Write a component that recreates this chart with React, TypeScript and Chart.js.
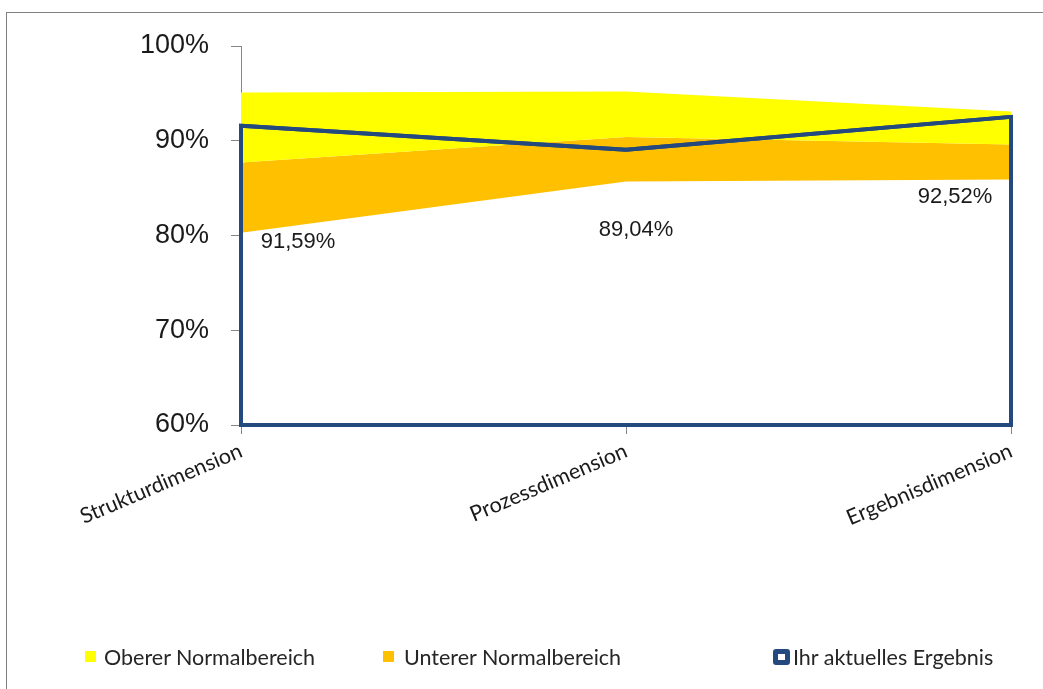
import React, { useEffect, useRef } from 'react';
import { Chart, registerables } from 'chart.js';

Chart.register(...registerables);

// ---- data ----
const categories = ['Strukturdimension', 'Prozessdimension', 'Ergebnisdimension'];
const currentResult = [91.59, 89.04, 92.52];
const lowerRangeBottom = [80.3, 85.7, 85.9];
const lowerRangeTop = [87.7, 90.4, 89.6];
const upperRangeTop = [95.1, 95.2, 93.1];
const yTickValues = [60, 70, 80, 90, 100];
const legendLabels = ['Oberer Normalbereich', 'Unterer Normalbereich', 'Ihr aktuelles Ergebnis'];

// ---- styles ----
const YELLOW = '#FFFF00';
const ORANGE = '#FFC000';
const BLUE = '#24497E';
const AXIS_GRAY = '#868686';
const labelOffsets: [number, number][] = [[57, 116], [10, 80], [-56, 80]];

const fmtPct = (v: number) => v.toFixed(2).replace('.', ',') + '%';

const outlinePlugin = {
  id: 'areaOutline',
  afterDatasetsDraw(chart: any) {
    const meta = chart.getDatasetMeta(0);
    const pts = meta.data;
    if (!pts || !pts.length) return;
    const yScale = chart.scales.y;
    const yBase = yScale.getPixelForValue(yScale.min);
    const ctx = chart.ctx;
    ctx.save();
    ctx.strokeStyle = BLUE;
    ctx.lineWidth = 4;
    ctx.lineJoin = 'miter';
    ctx.beginPath();
    ctx.moveTo(pts[0].x, pts[0].y);
    for (let i = 1; i < pts.length; i++) ctx.lineTo(pts[i].x, pts[i].y);
    ctx.lineTo(pts[pts.length - 1].x, yBase);
    ctx.lineTo(pts[0].x, yBase);
    ctx.closePath();
    ctx.stroke();
    ctx.restore();
  },
};

const dataLabelPlugin = {
  id: 'valueLabels',
  afterDraw(chart: any) {
    const meta = chart.getDatasetMeta(0);
    const ctx = chart.ctx;
    ctx.save();
    ctx.font = '22px "Liberation Sans", Arial, sans-serif';
    ctx.fillStyle = '#1a1a1a';
    ctx.textAlign = 'center';
    ctx.textBaseline = 'middle';
    meta.data.forEach((p: any, i: number) => {
      const [dx, dy] = labelOffsets[i];
      ctx.fillText(fmtPct(currentResult[i]), p.x + dx, p.y + dy);
    });
    ctx.restore();
  },
};

export default function App() {
  const ref = useRef<HTMLCanvasElement>(null);

  useEffect(() => {
    if (!ref.current) return;
    const chart = new Chart(ref.current, {
      type: 'line',
      data: {
        labels: categories,
        datasets: [
          {
            label: legendLabels[2],
            data: currentResult,
            borderColor: BLUE,
            borderWidth: 4,
            pointRadius: 0,
            fill: false,
            tension: 0,
            order: 0,
          },
          {
            label: 'base',
            data: lowerRangeBottom,
            borderWidth: 0,
            borderColor: 'rgba(0,0,0,0)',
            pointRadius: 0,
            fill: false,
            order: 3,
          },
          {
            label: legendLabels[1],
            data: lowerRangeTop,
            borderWidth: 0,
            borderColor: 'rgba(0,0,0,0)',
            backgroundColor: ORANGE,
            pointRadius: 0,
            fill: '-1',
            order: 2,
          },
          {
            label: legendLabels[0],
            data: upperRangeTop,
            borderWidth: 0,
            borderColor: 'rgba(0,0,0,0)',
            backgroundColor: YELLOW,
            pointRadius: 0,
            fill: '-1',
            order: 1,
          },
        ],
      },
      options: {
        responsive: false,
        animation: false,
        layout: { padding: { left: 0, top: 46, right: 32, bottom: 0 } },
        plugins: {
          legend: { display: false },
          tooltip: { enabled: false },
        },
        scales: {
          x: {
            offset: false,
            border: { display: true, color: AXIS_GRAY, width: 1 },
            grid: {
              display: true,
              drawOnChartArea: false,
              drawTicks: true,
              tickLength: 9,
              color: AXIS_GRAY,
            },
            ticks: {
              autoSkip: false,
              minRotation: 23,
              maxRotation: 23,
              padding: 4,
              color: '#1a1a1a',
              font: { family: 'Lato, "Open Sans", sans-serif', size: 21.5 },
            },
            afterFit(scale: any) {
              scale.height = 689 - 425;
            },
          },
          y: {
            min: 60,
            max: 100,
            border: { display: true, color: AXIS_GRAY, width: 1 },
            grid: {
              display: true,
              drawOnChartArea: false,
              drawTicks: true,
              tickLength: 10,
              color: AXIS_GRAY,
            },
            afterBuildTicks(scale: any) {
              scale.ticks = yTickValues.map((v) => ({ value: v }));
            },
            ticks: {
              padding: 22,
              color: '#1a1a1a',
              font: { family: '"Liberation Sans", Arial, sans-serif', size: 27 },
              callback: (v: any) => v + '%',
            },
            afterFit(scale: any) {
              scale.width = 241;
            },
          },
        },
      },
      plugins: [outlinePlugin, dataLabelPlugin],
    });
    return () => chart.destroy();
  }, []);

  const legendText: React.CSSProperties = {
    position: 'absolute',
    top: 644,
    fontFamily: 'Lato, "Open Sans", sans-serif',
    fontSize: 21.5,
    lineHeight: '26px',
    color: '#262626',
    whiteSpace: 'nowrap',
  };

  return (
    <div
      style={{
        position: 'fixed',
        left: 0,
        top: 0,
        width: 1043,
        height: 689,
        background: '#fff',
        overflow: 'hidden',
      }}
    >
      <div
        style={{
          position: 'absolute',
          left: 6,
          top: 12,
          width: 1100,
          height: 700,
          borderLeft: '1px solid #808080',
          borderTop: '1px solid #808080',
        }}
      />
      <canvas
        ref={ref}
        width={1043}
        height={689}
        style={{ position: 'absolute', left: 0, top: 0, width: 1043, height: 689 }}
      />
      <div style={{ position: 'absolute', left: 85, top: 651, width: 11, height: 11, background: YELLOW }} />
      <div style={{ ...legendText, left: 104 }}>{legendLabels[0]}</div>
      <div style={{ position: 'absolute', left: 383, top: 651, width: 11, height: 11, background: ORANGE }} />
      <div style={{ ...legendText, left: 404 }}>{legendLabels[1]}</div>
      <div
        style={{
          position: 'absolute',
          left: 773,
          top: 649,
          width: 7,
          height: 6,
          border: '5px solid ' + BLUE,
          borderRadius: 3,
          background: '#fff',
        }}
      />
      <div style={{ ...legendText, left: 793 }}>{legendLabels[2]}</div>
    </div>
  );
}
